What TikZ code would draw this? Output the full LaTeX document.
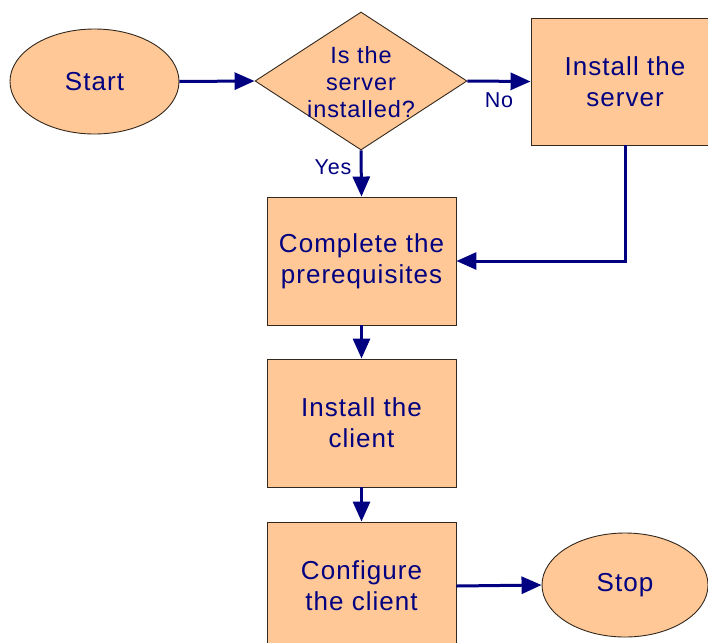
\documentclass[tikz,border=0pt]{standalone}
\usepackage{fontspec}
\setmainfont{Liberation Sans}[LetterSpace=4]
\usetikzlibrary{shapes.geometric,arrows.meta}
\definecolor{peach}{RGB}{255,200,150}
\definecolor{navyc}{RGB}{0,0,128}
\definecolor{edgec}{RGB}{50,40,30}
\begin{document}
\begin{tikzpicture}[x=1pt,y=-1pt,
  base/.style={fill=peach,draw=edgec,line width=0.9pt,inner sep=0pt,text=navyc,align=center,
    font=\fontsize{26}{31}\selectfont},
  procbox/.style={base,rectangle,minimum width=189pt,minimum height=128pt},
  term/.style={base,ellipse,minimum width=169pt,minimum height=105pt},
  decision/.style={base,diamond,minimum width=212pt,minimum height=138pt},
  qtext/.style={text=navyc,align=center,inner sep=0pt,font=\fontsize{23.5}{27}\selectfont},
  lbl/.style={text=navyc,inner sep=0pt,font=\fontsize{21.5}{24}\selectfont},
  flow/.style={draw=navyc,line width=3pt,-{Triangle[length=20pt,width=17pt]}}]
\useasboundingbox (0,0) rectangle (708,642);
\fill[white] (0,0) rectangle (708,642);
\node[term] (start) at (94.5,81.5) {Start};
\node[decision] (q) at (361,81) {};
\node[qtext] (qt) at (361,82) {Is the\\server\\installed?};
\node[procbox,minimum width=188pt,minimum height=127pt] (srv) at (625,81.5) {Install the\\server};
\node[procbox] (pre) at (361.5,261) {Complete the\\prerequisites};
\node[procbox] (cli) at (361.5,423) {Install the\\client};
\node[procbox] (cfg) at (361.5,586) {Configure\\the client};
\node[term,minimum width=166pt,minimum height=104pt] (stop) at (625,585) {Stop};
\coordinate (bend) at (srv.south |- pre.east);
\draw[flow] (start.east) -- (q.west);
\draw[flow] (q.east) -- (srv.west);
\draw[flow] (q.south) -- (pre.north);
\draw[flow] (srv.south) -- (bend) -- (pre.east);
\draw[flow] (pre.south) -- (cli.north);
\draw[flow] (cli.south) -- (cfg.north);
\draw[flow] (cfg.east) -- (stop.west);
\node[lbl] (no) at (499,100) {No};
\node[lbl] (yes) at (333,167) {Yes};
\end{tikzpicture}
\end{document}
